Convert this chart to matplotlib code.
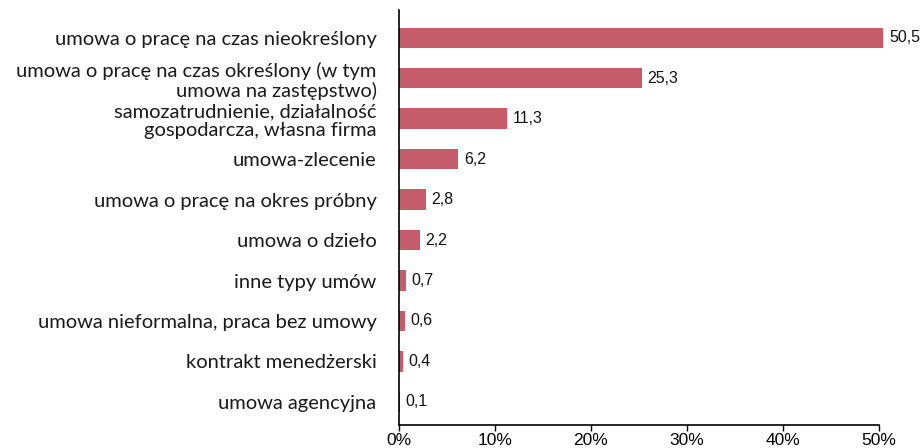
import numpy as np
import matplotlib.pyplot as plt

categories = [
    'umowa o pracę na czas nieokreślony',
    'umowa o pracę na czas określony (w tym\numowa na zastępstwo)',
    'samozatrudnienie, działalność\ngospodarcza, własna firma',
    'umowa-zlecenie',
    'umowa o pracę na okres próbny',
    'umowa o dzieło',
    'inne typy umów',
    'umowa nieformalna, praca bez umowy',
    'kontrakt menedżerski',
    'umowa agencyjna',
]
values = [50.5, 25.3, 11.3, 6.2, 2.8, 2.2, 0.7, 0.6, 0.4, 0.1]
xticks = [0, 10, 20, 30, 40, 50]

bar_color = '#c45c69'

fig = plt.figure(figsize=(9.21, 4.48), dpi=100)
ax = fig.add_axes([0.433, 0.0513, 0.521, 0.927])

y = np.arange(len(categories))
ax.barh(y, values, height=0.5, color=bar_color, clip_on=False, zorder=2)

# value labels just past the end of each bar, decimal comma
for yi, v in zip(y, values):
    ax.text(v + 0.6, yi, f'{v:.1f}'.replace('.', ','), va='center', ha='left',
            fontsize=11.5, family='Liberation Sans', color='#111111')

ax.set_xlim(0, 50)
ax.set_ylim(9.57, -0.69)
ax.set_yticks(y)
ax.set_yticklabels(categories, fontsize=14.5, family='Lato', linespacing=1.15,
                   color='#1a1a1a')
ax.tick_params(axis='y', length=0, pad=16)
ax.set_xticks(xticks)
ax.set_xticklabels([f'{t}%' for t in xticks], fontsize=12.5, family='Liberation Sans')
ax.tick_params(axis='x', length=4, width=1, pad=1.5, direction='out')

for s in ['top', 'right']:
    ax.spines[s].set_visible(False)
ax.spines['left'].set_linewidth(1.2)
ax.spines['bottom'].set_linewidth(1.2)

fig.savefig('out.png', dpi=100)
